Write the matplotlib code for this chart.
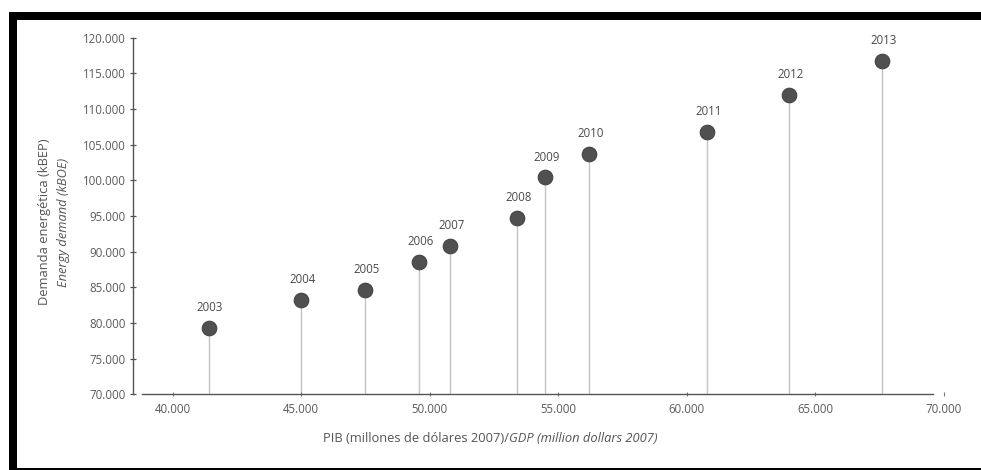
import matplotlib
matplotlib.use("Agg")
import matplotlib.pyplot as plt
from matplotlib.patches import Rectangle

# ---- data ----
years = ["2003", "2004", "2005", "2006", "2007", "2008", "2009", "2010", "2011", "2012", "2013"]
gdp = [41400, 45000, 47500, 49600, 50800, 53400, 54500, 56200, 60800, 64000, 67600]
demand = [79300, 83200, 84600, 88600, 90800, 94700, 100400, 103700, 106800, 112000, 116800]
x_ticks = [40000, 45000, 50000, 55000, 60000, 65000, 70000]
y_ticks = [70000, 75000, 80000, 85000, 90000, 95000, 100000, 105000, 110000, 115000, 120000]

def fmt(v):
    return f"{v:,.0f}".replace(",", ".")

plt.rcParams['font.family'] = ['Open Sans', 'DejaVu Sans']

W, H = 981, 470
fig = plt.figure(figsize=(W / 100, H / 100), dpi=100)
fig.patch.set_facecolor("white")

# black frame
fig.add_artist(Rectangle((9 / W, (H - 20) / H), 1 - 9 / W, 8 / H, transform=fig.transFigure,
                         facecolor="black", edgecolor="none"))
fig.add_artist(Rectangle((9 / W, 0), 8 / W, (H - 12) / H, transform=fig.transFigure,
                         facecolor="black", edgecolor="none"))
fig.add_artist(Rectangle((9 / W, 0), 1 - 9 / W, 2.5 / H, transform=fig.transFigure,
                         facecolor="black", edgecolor="none"))

left, right = 133 / W, 943.5 / W
bottom, top = (H - 394.3) / H, (H - 37.7) / H
ax = fig.add_axes([left, bottom, right - left, top - bottom])
ax.set_facecolor("none")

ax.set_xlim(38460, 70000)
ax.set_ylim(70000, 120000)

ax.vlines(gdp, 70000, demand, colors="#c4c4c4", linewidth=1.0, zorder=1)
ax.plot(gdp, demand, linestyle="none", marker="o", markersize=10.5,
        markerfacecolor="#505050", markeredgecolor="#444444", markeredgewidth=0.8, zorder=3)

for xv, yv, lab in zip(gdp, demand, years):
    ax.annotate(lab, (xv, yv), xytext=(1, 10), textcoords="offset points",
                ha="center", va="bottom", fontsize=8.3, color="#4a4a4a")

for s in ["top", "right"]:
    ax.spines[s].set_visible(False)
ax.spines["left"].set_color("#555555")
ax.spines["bottom"].set_color("#555555")
ax.spines["left"].set_linewidth(1.0)
ax.spines["bottom"].set_linewidth(1.0)
ax.spines["bottom"].set_bounds(38800, 69600)

ax.set_xticks(x_ticks)
ax.set_xticklabels([fmt(v) for v in x_ticks])
ax.set_yticks(y_ticks)
ax.set_yticklabels([fmt(v) for v in y_ticks])
ax.tick_params(axis="y", direction="inout", length=5, width=0.9, color="#555555",
               labelsize=8.3, labelcolor="#5a5a5a", pad=3)
ax.tick_params(axis="x", direction="inout", length=3, width=0.8, color="#777777",
               labelsize=8.3, labelcolor="#5a5a5a", pad=5)

# y label, two lines
fig.text(45 / W, (H - 222) / H, "Demanda energética (kBEP)", rotation=90,
         ha="center", va="center", fontsize=9.3, color="#555555")
fig.text(63 / W, (H - 222) / H, "Energy demand (kBOE)", rotation=90, style="italic",
         ha="center", va="center", fontsize=9.3, color="#555555")

# x label, mixed style
t1 = fig.text(509 / W, (H - 439) / H, "PIB (millones de dólares 2007)/",
              ha="right", va="center", fontsize=9.3, color="#555555")
ax.annotate("GDP (million dollars 2007)", xy=(1, 0), xycoords=t1,
            ha="left", va="bottom", fontsize=9.3, color="#555555", style="italic",
            annotation_clip=False)

fig.savefig("out.png", dpi=100, facecolor="white")
